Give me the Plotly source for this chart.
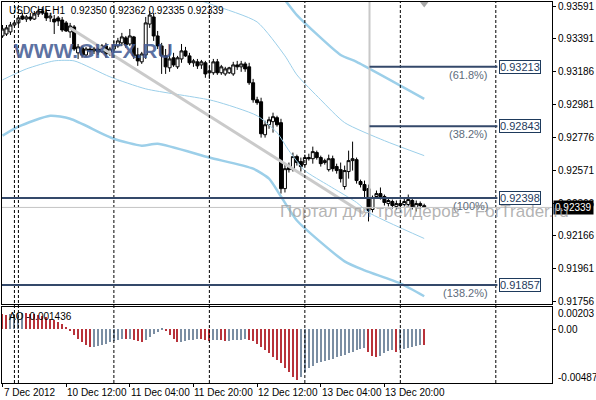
import plotly.graph_objects as go

# ---------------- data ----------------
bar_index = list(range(107))
opens = [0.93405,0.93417,0.93430,0.93473,0.93486,0.93529,0.93510,0.93523,0.93510,0.93541,
         0.93560,0.93548,0.93517,0.93510,0.93517,0.93504,0.93486,0.93430,0.93461,0.93300,
         0.93331,0.93287,0.93324,0.93312,0.93324,0.93306,0.93343,0.93293,0.93324,0.93343,
         0.93362,0.93393,0.93355,0.93399,0.93287,0.93244,0.93287,0.93479,0.93523,0.93405,
         0.93343,0.93281,0.93207,0.93269,0.93213,0.93262,0.93312,0.93281,0.93238,0.93244,
         0.93225,0.93238,0.93176,0.93176,0.93244,0.93176,0.93169,0.93176,0.93169,0.93225,
         0.93213,0.93231,0.93213,0.93114,0.93008,0.92996,0.92791,0.92853,0.92872,0.92897,
         0.92866,0.92456,0.92587,0.92574,0.92655,0.92624,0.92605,0.92649,0.92642,0.92680,
         0.92649,0.92618,0.92574,0.92642,0.92593,0.92574,0.92469,0.92562,0.92630,0.92636,
         0.92500,0.92481,0.92456,0.92326,0.92407,0.92425,0.92407,0.92363,0.92376,0.92345,
         0.92363,0.92357,0.92357,0.92382,0.92339,0.92363,0.92350]
highs = [0.93473,0.93473,0.93492,0.93498,0.93535,0.93548,0.93535,0.93548,0.93560,0.93572,
         0.93585,0.93572,0.93548,0.93535,0.93529,0.93523,0.93498,0.93486,0.93473,0.93355,
         0.93343,0.93337,0.93343,0.93337,0.93343,0.93355,0.93362,0.93337,0.93374,0.93393,
         0.93424,0.93405,0.93448,0.93405,0.93331,0.93306,0.93523,0.93560,0.93548,0.93436,
         0.93362,0.93324,0.93349,0.93300,0.93281,0.93355,0.93337,0.93300,0.93262,0.93262,
         0.93256,0.93250,0.93219,0.93262,0.93262,0.93225,0.93213,0.93213,0.93244,0.93250,
         0.93250,0.93244,0.93238,0.93138,0.93027,0.93021,0.92878,0.92903,0.92928,0.92909,
         0.92890,0.92605,0.92618,0.92680,0.92667,0.92649,0.92667,0.92673,0.92717,0.92692,
         0.92661,0.92642,0.92667,0.92661,0.92611,0.92618,0.92599,0.92692,0.92748,0.92649,
         0.92512,0.92506,0.92481,0.92413,0.92444,0.92463,0.92419,0.92394,0.92388,0.92382,
         0.92388,0.92401,0.92419,0.92401,0.92382,0.92376,0.92362]
lows = [0.93393,0.93405,0.93411,0.93461,0.93473,0.93504,0.93492,0.93498,0.93504,0.93523,
        0.93535,0.93498,0.93492,0.93417,0.93467,0.93430,0.93430,0.93393,0.93312,0.93262,
        0.93269,0.93275,0.93287,0.93293,0.93287,0.93300,0.93269,0.93281,0.93312,0.93331,
        0.93343,0.93331,0.93343,0.93262,0.93219,0.93231,0.93262,0.93455,0.93374,0.93324,
        0.93169,0.93169,0.93182,0.93213,0.93200,0.93238,0.93275,0.93225,0.93213,0.93200,
        0.93200,0.93145,0.93138,0.93163,0.93163,0.93163,0.93157,0.93169,0.93157,0.93194,
        0.93182,0.93182,0.93101,0.92990,0.92977,0.92773,0.92773,0.92828,0.92804,0.92841,
        0.92425,0.92432,0.92556,0.92562,0.92599,0.92562,0.92593,0.92630,0.92611,0.92636,
        0.92593,0.92605,0.92562,0.92562,0.92549,0.92494,0.92450,0.92518,0.92568,0.92487,
        0.92463,0.92394,0.92252,0.92308,0.92394,0.92388,0.92351,0.92345,0.92332,0.92326,
        0.92332,0.92345,0.92345,0.92326,0.92314,0.92332,0.92335]
closes = [0.93448,0.93455,0.93473,0.93486,0.93517,0.93510,0.93523,0.93510,0.93541,0.93560,
          0.93548,0.93517,0.93529,0.93492,0.93498,0.93442,0.93436,0.93467,0.93324,0.93337,
          0.93287,0.93324,0.93312,0.93324,0.93306,0.93343,0.93293,0.93324,0.93349,0.93374,
          0.93399,0.93349,0.93405,0.93281,0.93250,0.93293,0.93486,0.93535,0.93405,0.93343,
          0.93281,0.93213,0.93262,0.93225,0.93269,0.93312,0.93281,0.93238,0.93250,0.93219,
          0.93244,0.93169,0.93188,0.93244,0.93176,0.93213,0.93200,0.93207,0.93225,0.93213,
          0.93231,0.93200,0.93114,0.93008,0.92990,0.92797,0.92853,0.92884,0.92903,0.92853,
          0.92456,0.92580,0.92574,0.92655,0.92618,0.92593,0.92649,0.92642,0.92686,0.92649,
          0.92611,0.92630,0.92642,0.92580,0.92568,0.92518,0.92568,0.92630,0.92642,0.92506,
          0.92481,0.92444,0.92320,0.92401,0.92425,0.92407,0.92370,0.92382,0.92351,0.92363,
          0.92351,0.92376,0.92388,0.92345,0.92363,0.92351,0.92339]

ao_values = [0.00140,0.00130,0.00135,0.00140,0.00145,0.00150,0.00148,0.00142,0.00138,0.00130,
             0.00120,0.00110,0.00098,0.00085,0.00070,0.00050,0.00020,-0.00010,-0.00050,-0.00090,
             -0.00120,-0.00145,-0.00160,-0.00158,-0.00150,-0.00140,-0.00130,-0.00118,-0.00105,-0.00095,
             -0.00085,-0.00090,-0.00088,-0.00095,-0.00110,-0.00120,-0.00100,-0.00070,-0.00040,-0.00020,
             0.00005,-0.00010,-0.00050,-0.00090,-0.00120,-0.00115,-0.00105,-0.00100,-0.00095,-0.00090,
             -0.00092,-0.00100,-0.00105,-0.00100,-0.00098,-0.00100,-0.00105,-0.00102,-0.00098,-0.00095,
             -0.00093,-0.00092,-0.00095,-0.00110,-0.00130,-0.00160,-0.00190,-0.00220,-0.00250,-0.00280,
             -0.00310,-0.00350,-0.00390,-0.00430,-0.00460,-0.00435,-0.00390,-0.00350,-0.00330,-0.00310,
             -0.00300,-0.00290,-0.00280,-0.00270,-0.00250,-0.00240,-0.00230,-0.00220,-0.00210,-0.00190,
             -0.00180,-0.00170,-0.00210,-0.00240,-0.00250,-0.00240,-0.00220,-0.00200,-0.00190,-0.00206,
             -0.00190,-0.00180,-0.00170,-0.00160,-0.00150,-0.00140,-0.001436]

# envelope lines (sampled points)
thick_lower_x = [0, 4, 12, 17, 28, 35, 39, 52, 63, 67, 70, 74, 86, 91, 100, 106]
thick_lower_p = [0.92785,0.92841,0.92909,0.92890,0.92766,0.92723,0.92735,0.92649,0.92580,0.92518,
                 0.92407,0.92258,0.92004,0.91948,0.91867,0.91787]
thin_lower_x = [0, 6, 13, 18, 27, 36, 53, 64, 69, 72, 76, 82, 89, 92, 106]
thin_lower_p = [0.93132,0.93200,0.93250,0.93250,0.93151,0.93076,0.93002,0.92909,0.92804,0.92692,
                0.92568,0.92475,0.92370,0.92308,0.92146]
thin_upper_x = [47, 53, 64, 71, 74, 80, 86, 96, 106]
thin_upper_p = [0.93647,0.93597,0.93492,0.93281,0.93163,0.93008,0.92866,0.92754,0.92661]
thick_upper_x = [64, 71, 74, 85, 89, 106]
thick_upper_p = [0.93820,0.93628,0.93535,0.93287,0.93244,0.93014]

trend_x = [17, 90.75]
trend_p = [0.93455, 0.92301]
fib_anchor_x = 92.25

price_ticks = [0.93591, 0.93391, 0.93186, 0.92981, 0.92776, 0.92571, 0.92366, 0.92166, 0.91961, 0.91756]
time_tick_index = [0, 16, 32, 48, 64, 80, 96]
time_tick_labels = ["7 Dec 2012", "10 Dec 12:00", "11 Dec 04:00", "11 Dec 20:00",
                    "12 Dec 12:00", "13 Dec 04:00", "13 Dec 20:00"]
separator_index = [3, 4, 28, 52, 76, 100, 124]

fib_levels = [0.93213, 0.92843, 0.92398, 0.91857]
fib_pct = ["(61.8%)", "(38.2%)", "(100%)", "(138.2%)"]
fib_full_width = [False, False, True, True]
fib_end_x = 124.4

last_price = 0.92339
ao_axis_labels = ["0.00203", "0.00", "-0.00487"]
header = "USDCHF,H1  0.92350 0.92362 0.92335 0.92339"
ao_header = "AO -0.001436"

# ---------------- styling ----------------
FONT = "Liberation Sans, Arial, sans-serif"
X_RANGE = [-0.125, 138.125]
Y_RANGE = [0.917374, 0.93616]
AO_RANGE = [-0.00487, 0.00203]
MAIN_DOM = [0.2068, 1.0]
AO_DOM = [0.0, 0.199]
FIB_COLOR = "#34496a"
ENV_COLOR = "#9ccfe9"

fig = go.Figure()

# envelopes
for xs, ps, w in [(thick_lower_x, thick_lower_p, 2.5), (thick_upper_x, thick_upper_p, 2.5),
                  (thin_lower_x, thin_lower_p, 1), (thin_upper_x, thin_upper_p, 1)]:
    fig.add_trace(go.Scatter(x=xs, y=ps, mode="lines", line=dict(color=ENV_COLOR, width=w, shape="spline", smoothing=0.6),
                             hoverinfo="skip", showlegend=False, xaxis="x", yaxis="y"))

# gray trend line
fig.add_trace(go.Scatter(x=trend_x, y=trend_p, mode="lines", line=dict(color="#cacaca", width=3),
                         hoverinfo="skip", showlegend=False, xaxis="x", yaxis="y"))

# candles
fig.add_trace(go.Candlestick(
    x=bar_index, open=opens, high=highs, low=lows, close=closes,
    increasing=dict(line=dict(color="black", width=1), fillcolor="white"),
    decreasing=dict(line=dict(color="black", width=1), fillcolor="black"),
    whiskerwidth=0, showlegend=False, xaxis="x", yaxis="y"))

# shift marker triangle at top
fig.add_trace(go.Scatter(x=[bar_index[-1]], y=[Y_RANGE[1]], mode="markers",
                         marker=dict(symbol="triangle-down", size=11, color="#a8a8a8"),
                         hoverinfo="skip", showlegend=False, xaxis="x", yaxis="y"))

# AO histogram
ao_colors = []
for k, v in enumerate(ao_values):
    if k == 0 or v < ao_values[k - 1]:
        ao_colors.append("#b8323a")
    else:
        ao_colors.append("#7b8ea3")
fig.add_trace(go.Bar(x=bar_index, y=ao_values, width=0.28, marker=dict(color=ao_colors, line=dict(width=0)),
                     showlegend=False, xaxis="x2", yaxis="y2"))

shapes = []
# period separators
for s in separator_index:
    shapes.append(dict(type="line", xref="x", yref="paper", x0=s, x1=s, y0=0, y1=1,
                       line=dict(color="black", width=1, dash="3px,2px")))
# bid line
shapes.append(dict(type="line", xref="paper", yref="y", x0=0, x1=1, y0=last_price, y1=last_price,
                   line=dict(color="#c4c4c4", width=1)))
# fib anchor vertical
shapes.append(dict(type="line", xref="x", yref="y", x0=fib_anchor_x, x1=fib_anchor_x,
                   y0=Y_RANGE[1], y1=fib_levels[2], line=dict(color="#c8c8c8", width=2)))
# fib levels
for lvl, full in zip(fib_levels, fib_full_width):
    x0 = X_RANGE[0] if full else fib_anchor_x
    shapes.append(dict(type="line", xref="x", yref="y", x0=x0, x1=fib_end_x, y0=lvl, y1=lvl,
                       line=dict(color=FIB_COLOR, width=2)))

annotations = []
for lvl, pct in zip(fib_levels, fib_pct):
    annotations.append(dict(x=fib_end_x + 0.5, y=lvl, xref="x", yref="y", text=f"{lvl:.5f}",
                            showarrow=False, xanchor="left", yanchor="middle",
                            font=dict(family=FONT, size=11, color="#1e3a5c"),
                            bgcolor="white", bordercolor="#1e3a5c", borderwidth=1, borderpad=0))
    annotations.append(dict(x=fib_end_x - 1.8, y=lvl, xref="x", yref="y", text=pct, yshift=-8,
                            showarrow=False, xanchor="right", yanchor="middle",
                            font=dict(family=FONT, size=11, color="#5d6b7b")))

# time labels
for ti, tl in zip(time_tick_index, time_tick_labels):
    annotations.append(dict(x=ti, y=0, xref="x2", yref="paper", text=tl, showarrow=False,
                            xanchor="left", yanchor="top", xshift=-1, yshift=-2,
                            font=dict(family=FONT, size=10, color="black")))

# AO axis labels
for val, txt, yp in zip([AO_RANGE[1], 0.0, AO_RANGE[0]], ao_axis_labels, [0.1832, None, 0.0157]):
    if yp is None:
        annotations.append(dict(x=1, y=val, xref="paper", yref="y2", text=txt, showarrow=False,
                                xanchor="left", yanchor="middle", xshift=4,
                                font=dict(family=FONT, size=10, color="black")))
    else:
        annotations.append(dict(x=1, y=yp, xref="paper", yref="paper", text=txt, showarrow=False,
                                xanchor="left", yanchor="middle", xshift=4,
                                font=dict(family=FONT, size=10, color="black")))

# current price label
annotations.append(dict(x=1, y=last_price, xref="paper", yref="y", text=f"{last_price:.5f}", showarrow=False,
                        xanchor="left", yanchor="middle", xshift=1, bgcolor="black", borderpad=1,
                        font=dict(family=FONT, size=10, color="white")))

# headers and watermarks
annotations.append(dict(x=0.009, y=0.979, xref="paper", yref="paper", text=header, showarrow=False,
                        xanchor="left", yanchor="middle", font=dict(family=FONT, size=10, color="black")))
annotations.append(dict(x=0.009, y=0.1754, xref="paper", yref="paper", text=ao_header, showarrow=False,
                        xanchor="left", yanchor="middle", font=dict(family=FONT, size=10, color="black")))
annotations.append(dict(x=0.0181, y=0.8717, xref="paper", yref="paper", text="<b>WWW.GKFX.RU</b>",
                        showarrow=False, xanchor="left", yanchor="middle",
                        font=dict(family=FONT, size=21, color="rgba(65,88,145,0.85)")))
annotations.append(dict(x=0.5027, y=0.4503, xref="paper", yref="paper",
                        text="Портал для трейдеров - ForTrader.ru", showarrow=False,
                        xanchor="left", yanchor="middle",
                        font=dict(family=FONT, size=17, color="rgba(160,160,160,0.8)")))

axis_common = dict(showgrid=False, zeroline=False, showline=True, mirror=True, linecolor="black", linewidth=1)

fig.update_layout(
    width=596, height=400,
    margin=dict(l=2, r=41, t=1, b=17),
    paper_bgcolor="white", plot_bgcolor="white",
    boxgap=0.25, boxgroupgap=0,
    bargap=0,
    showlegend=False,
    xaxis=dict(domain=[0, 1], range=X_RANGE, anchor="y", showticklabels=False, ticks="",
               rangeslider=dict(visible=False), **axis_common),
    yaxis=dict(domain=MAIN_DOM, range=Y_RANGE, side="right", anchor="x",
               tickvals=price_ticks, ticktext=[f"{v:.5f}" for v in price_ticks],
               ticks="outside", ticklen=3, tickcolor="black",
               tickfont=dict(family=FONT, size=10, color="black"), **axis_common),
    xaxis2=dict(domain=[0, 1], range=X_RANGE, anchor="y2", matches="x",
                tickvals=time_tick_index, showticklabels=False, ticks="outside", ticklen=3,
                tickcolor="black", **axis_common),
    yaxis2=dict(domain=AO_DOM, range=AO_RANGE, side="right", anchor="x2",
                tickvals=[0.0], showticklabels=False, ticks="outside", ticklen=3, tickcolor="black",
                **axis_common),
    shapes=shapes,
    annotations=annotations,
)

fig.write_html("out.html", config={"displayModeBar": False},
               post_script="document.body.style.margin='0';document.body.style.overflow='hidden';")
